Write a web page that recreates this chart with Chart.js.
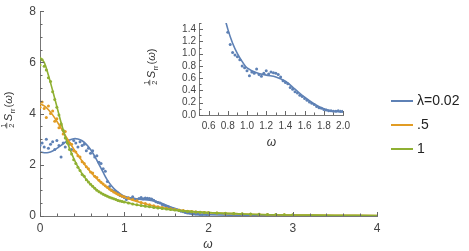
<!DOCTYPE html>
<html>
<head>
<meta charset="utf-8">
<script src="https://cdn.jsdelivr.net/npm/chart.js@4.4.1/dist/chart.umd.min.js"></script>
<style>
body { margin: 0; background: #fff; }
#wrap { position: relative; width: 469px; height: 251px; }
canvas { position: absolute; }
</style>
</head>
<body>
<div id="wrap">
<canvas id="mainChart" width="469" height="251" style="left:0;top:0"></canvas>
<canvas id="insetChart" width="215" height="140" style="left:140px;top:10px"></canvas>
</div>
<script>
const seriesNames = ['λ=0.02', '.5', '1'];
const seriesColors = ['#5e81b5', '#e19c24', '#8fb032'];

// fitted curves
const curveX = [0,0.05,0.1,0.15,0.2,0.25,0.3,0.35,0.4,0.45,0.5,0.55,0.6,0.65,0.7,0.75,0.8,0.85,0.9,0.95,1.0,
                1.1,1.2,1.3,1.4,1.5,1.6,1.7,1.8,1.9,2.0,2.5,3.0,3.5,4.0];
const curveBlue = [2.50,2.47,2.48,2.54,2.64,2.76,2.88,2.97,3.02,3.01,2.94,2.80,2.60,2.33,2.02,1.70,1.40,1.17,1.00,0.87,0.77,
                   0.69,0.65,0.62,0.55,0.42,0.29,0.18,0.10,0.06,0.05,0.02,0.01,0.01,0.01];
const curveOrange = [4.38,4.30,4.15,3.95,3.70,3.43,3.15,2.88,2.62,2.38,2.15,1.92,1.72,1.54,1.38,1.23,1.10,0.98,0.88,0.80,0.73,
                     0.62,0.52,0.43,0.36,0.30,0.25,0.21,0.18,0.15,0.13,0.07,0.04,0.03,0.02];
const curveGreen = [6.20,6.00,5.50,4.90,4.28,3.65,3.10,2.65,2.25,1.92,1.65,1.43,1.24,1.08,0.95,0.85,0.77,0.70,0.64,0.59,0.55,
                    0.47,0.41,0.36,0.31,0.27,0.23,0.20,0.17,0.15,0.13,0.07,0.04,0.03,0.02];

// measured points, lambda = 0.02
const blueX = [0,0.025,0.05,0.075,0.1,0.125,0.15,0.175,0.2,0.225,0.25,0.275,0.3,0.325,0.35,0.375,0.4,0.425,0.45,0.475,
               0.5,0.525,0.55,0.575,0.6,0.625,0.65,0.675,0.7,0.725,0.75,0.775,0.8,0.825,0.85,0.875,0.9,0.925,0.95,0.975,
               1.0,1.025,1.05,1.075,1.1,1.125,1.15,1.175,1.2,1.225,1.25,1.275,1.3,1.325,1.35,1.375,1.4,1.425,1.45,1.475,
               1.5,1.525,1.55,1.575,1.6,1.625,1.65,1.675,1.7,1.725,1.75,1.775,1.8,1.825,1.85,1.875,1.9,1.925,1.95,1.975,2.0];
const blueY = [2.75,2.85,2.70,3.00,2.65,2.80,2.90,2.60,2.95,2.75,
               2.30,2.85,2.70,2.95,2.80,2.60,2.95,2.85,2.70,2.90,
               2.75,2.80,2.55,2.65,2.45,2.55,2.30,2.35,2.10,2.05,
               1.85,1.75,1.35,1.15,1.02,0.98,0.95,0.90,0.80,0.77,
               0.72,0.64,0.70,0.68,0.75,0.66,0.63,0.68,0.72,0.67,
               0.70,0.69,0.68,0.66,0.62,0.56,0.53,0.51,0.45,0.42,
               0.38,0.36,0.32,0.30,0.27,0.24,0.21,0.19,0.17,0.14,
               0.12,0.11,0.09,0.08,0.07,0.07,0.06,0.06,0.07,0.06,0.06];

// measured points, lambda = .5 and 1
const pointsX = [0,0.025,0.05,0.075,0.1,0.125,0.15,0.175,0.2,0.225,0.25,0.275,0.3,0.325,0.35,0.375,0.4,0.425,0.45,0.475,
                 0.5,0.525,0.55,0.575,0.6,0.625,0.65,0.675,0.7,0.725,0.75,0.775,0.8,0.825,0.85,0.875,0.9,0.925,0.95,0.975,1.0,
                 1.05,1.1,1.15,1.2,1.25,1.3,1.35,1.4,1.45,1.5,1.55,1.6,1.65,1.7,1.75,1.8,1.85,1.9,1.95,2.0,
                 2.1,2.2,2.3,2.4,2.5,2.6,2.7,2.8,2.9,3.0];
const orangeY = [4.25,4.45,4.20,3.85,4.30,4.00,4.10,3.70,3.80,3.45,
                 3.55,3.20,3.30,2.95,2.85,2.80,2.55,2.50,2.35,2.30,
                 2.12,2.05,1.92,1.85,1.72,1.68,1.55,1.50,1.40,1.32,
                 1.25,1.18,1.12,1.05,1.00,0.94,0.90,0.85,0.82,0.77,0.75,
                 0.70,0.64,0.60,0.53,0.49,0.44,0.40,0.36,0.33,0.30,
                 0.28,0.25,0.23,0.21,0.19,0.18,0.16,0.15,0.14,0.13,
                 0.12,0.10,0.09,0.08,0.07,0.07,0.06,0.05,0.05,0.04];
const greenY = [5.90,6.10,5.85,5.70,5.40,5.25,4.85,4.55,4.25,3.95,
                3.60,3.35,3.05,2.85,2.60,2.42,2.20,2.05,1.90,1.78,
                1.62,1.55,1.42,1.33,1.24,1.16,1.08,1.01,0.95,0.90,
                0.85,0.81,0.77,0.73,0.70,0.67,0.64,0.61,0.59,0.57,0.55,
                0.51,0.47,0.44,0.41,0.38,0.36,0.33,0.31,0.29,0.27,
                0.25,0.23,0.21,0.20,0.18,0.17,0.16,0.15,0.14,0.13,
                0.12,0.11,0.10,0.09,0.08,0.07,0.06,0.06,0.05,0.05];

const xTicksMain = [0,1,2,3,4];
const yTicksMain = [0,2,4,6,8];
const xTicksInset = [0.6,0.8,1.0,1.2,1.4,1.6,1.8,2.0];
const yTicksInset = [0,0.2,0.4,0.6,0.8,1.0,1.2,1.4];

const FONT = '"Liberation Sans", Arial, sans-serif';
Chart.defaults.font.family = FONT;

function pairs(xs, ys) {
    return xs.map((x, i) => ({x: x, y: ys[i]}));
}

function lineSet(xs, ys, color, order) {
    return {data: pairs(xs, ys), showLine: true, borderColor: color, borderWidth: 1.6,
            pointRadius: 0, tension: 0.35, order: order};
}

function dotSet(xs, ys, color, order) {
    return {data: pairs(xs, ys), showLine: false, backgroundColor: color, borderWidth: 0,
            pointRadius: 1.5, order: order};
}

// 1/2 S_rr(w), written sideways
function drawRateLabel(ctx, cx, cy) {
    ctx.save();
    ctx.translate(cx, cy);
    ctx.rotate(-Math.PI / 2);
    ctx.fillStyle = '#333';
    ctx.textBaseline = 'alphabetic';
    var big = '11px ' + FONT, bigIt = 'italic 11px ' + FONT, small = '7.5px ' + FONT;
    ctx.font = small;
    var fw = ctx.measureText('2').width + 1.5;
    var rw = ctx.measureText('rr').width;
    ctx.font = bigIt;
    var sw = ctx.measureText('S').width + 0.5;
    var ww = ctx.measureText('ω').width;
    ctx.font = big;
    var pw = ctx.measureText('(').width;
    var total = fw + 1.5 + sw + rw + 1 + pw * 2 + ww;
    var x = -total / 2;

    ctx.font = small;
    ctx.textAlign = 'center';
    ctx.fillText('1', x + fw / 2, -6.5);
    ctx.fillText('2', x + fw / 2, 1.8);
    ctx.fillRect(x, -5.6, fw, 0.8);
    x += fw + 1.5;
    ctx.textAlign = 'left';
    ctx.font = bigIt;
    ctx.fillText('S', x, 0);
    x += sw;
    ctx.font = small;
    ctx.fillText('rr', x, 2.5);
    x += rw + 1;
    ctx.font = big;
    ctx.fillText('(', x, 0);
    x += pw;
    ctx.font = bigIt;
    ctx.fillText('ω', x, 0);
    x += ww;
    ctx.font = big;
    ctx.fillText(')', x, 0);
    ctx.restore();
}

// inward Mathematica style ticks, axis titles and legend
const decorPlugin = {
    id: 'decor',
    afterDraw(chart, args, opts) {
        var ctx = chart.ctx, sx = chart.scales.x, sy = chart.scales.y;
        ctx.save();
        ctx.strokeStyle = '#666';
        ctx.lineWidth = 1;
        ctx.beginPath();
        var i, v, p, major;
        for (i = Math.ceil(sx.min / opts.xMinor - 1e-6); i * opts.xMinor <= sx.max + 1e-6; i++) {
            v = i * opts.xMinor;
            major = Math.abs(v / opts.xMajor - Math.round(v / opts.xMajor)) < 1e-6;
            p = Math.round(sx.getPixelForValue(v)) + 0.5;
            ctx.moveTo(p, sy.bottom);
            ctx.lineTo(p, sy.bottom - (major ? 4 : 2.5));
        }
        for (i = Math.ceil(sy.min / opts.yMinor - 1e-6); i * opts.yMinor <= sy.max + 1e-6; i++) {
            v = i * opts.yMinor;
            major = Math.abs(v / opts.yMajor - Math.round(v / opts.yMajor)) < 1e-6;
            p = Math.round(sy.getPixelForValue(v)) + 0.5;
            ctx.moveTo(sx.left, p);
            ctx.lineTo(sx.left + (major ? 4 : 2.5), p);
        }
        ctx.stroke();

        ctx.fillStyle = '#333';
        ctx.font = 'italic 12px ' + FONT;
        ctx.textAlign = 'center';
        ctx.textBaseline = 'middle';
        ctx.fillText('ω', opts.wX, opts.wY);
        drawRateLabel(ctx, opts.labelX, opts.labelY);

        if (opts.legend) {
            ctx.lineWidth = 2;
            ctx.font = '14px ' + FONT;
            ctx.textAlign = 'left';
            ctx.textBaseline = 'middle';
            seriesNames.forEach(function(name, k) {
                var ly = 101 + k * 24;
                ctx.strokeStyle = seriesColors[k];
                ctx.beginPath();
                ctx.moveTo(391, ly);
                ctx.lineTo(413, ly);
                ctx.stroke();
                ctx.fillStyle = '#222';
                ctx.fillText(name, 417, ly);
            });
        }
        ctx.restore();
    }
};

function axisOpts(min, max, tickList, fmt, size, pad, fitFn) {
    return {
        type: 'linear', min: min, max: max,
        grid: {display: false, drawTicks: false},
        border: {display: true, color: '#777', width: 1},
        afterBuildTicks: function(scale) { scale.ticks = tickList.map(v => ({value: v})); },
        afterFit: fitFn,
        ticks: {color: '#444', font: {size: size}, padding: pad, maxRotation: 0, autoSkip: false,
                callback: fmt}
    };
}

new Chart(document.getElementById('mainChart'), {
    type: 'scatter',
    data: {
        datasets: [
            lineSet(curveX, curveGreen, seriesColors[2], 0),
            dotSet(pointsX, greenY, seriesColors[2], 1),
            lineSet(curveX, curveOrange, seriesColors[1], 2),
            dotSet(pointsX, orangeY, seriesColors[1], 3),
            lineSet(curveX, curveBlue, seriesColors[0], 4),
            dotSet(blueX, blueY, seriesColors[0], 5)
        ]
    },
    options: {
        responsive: false,
        animation: false,
        layout: {padding: {left: 0, right: 92, top: 8, bottom: 0}},
        plugins: {
            legend: {display: false},
            tooltip: {enabled: false},
            decor: {xMinor: 0.2, xMajor: 1, yMinor: 0.5, yMajor: 2,
                    wX: 208, wY: 245, labelX: 12, labelY: 110, legend: true}
        },
        scales: {
            x: axisOpts(0, 4, xTicksMain, v => String(v), 12, 5, s => { s.height = 35; }),
            y: axisOpts(0, 8, yTicksMain, v => String(v), 12, 4, s => { s.width = 40; })
        }
    },
    plugins: [decorPlugin]
});

new Chart(document.getElementById('insetChart'), {
    type: 'scatter',
    data: {
        datasets: [
            lineSet(curveX, curveBlue, seriesColors[0], 0),
            dotSet(blueX, blueY, seriesColors[0], 1)
        ]
    },
    options: {
        responsive: false,
        animation: false,
        layout: {padding: {left: 0, right: 9, top: 13, bottom: 0}},
        plugins: {
            legend: {display: false},
            tooltip: {enabled: false},
            decor: {xMinor: 0.1, xMajor: 0.2, yMinor: 0.1, yMajor: 0.2,
                    wX: 131.5, wY: 133, labelX: 15, labelY: 57, legend: false}
        },
        scales: {
            x: axisOpts(0.5, 2.0, xTicksInset, v => v.toFixed(1), 10, 5, s => { s.height = 35; }),
            y: axisOpts(0, 1.5, yTicksInset, v => v.toFixed(1), 10, 3, s => { s.width = 59; })
        }
    },
    plugins: [decorPlugin]
});
</script>
</body>
</html>
